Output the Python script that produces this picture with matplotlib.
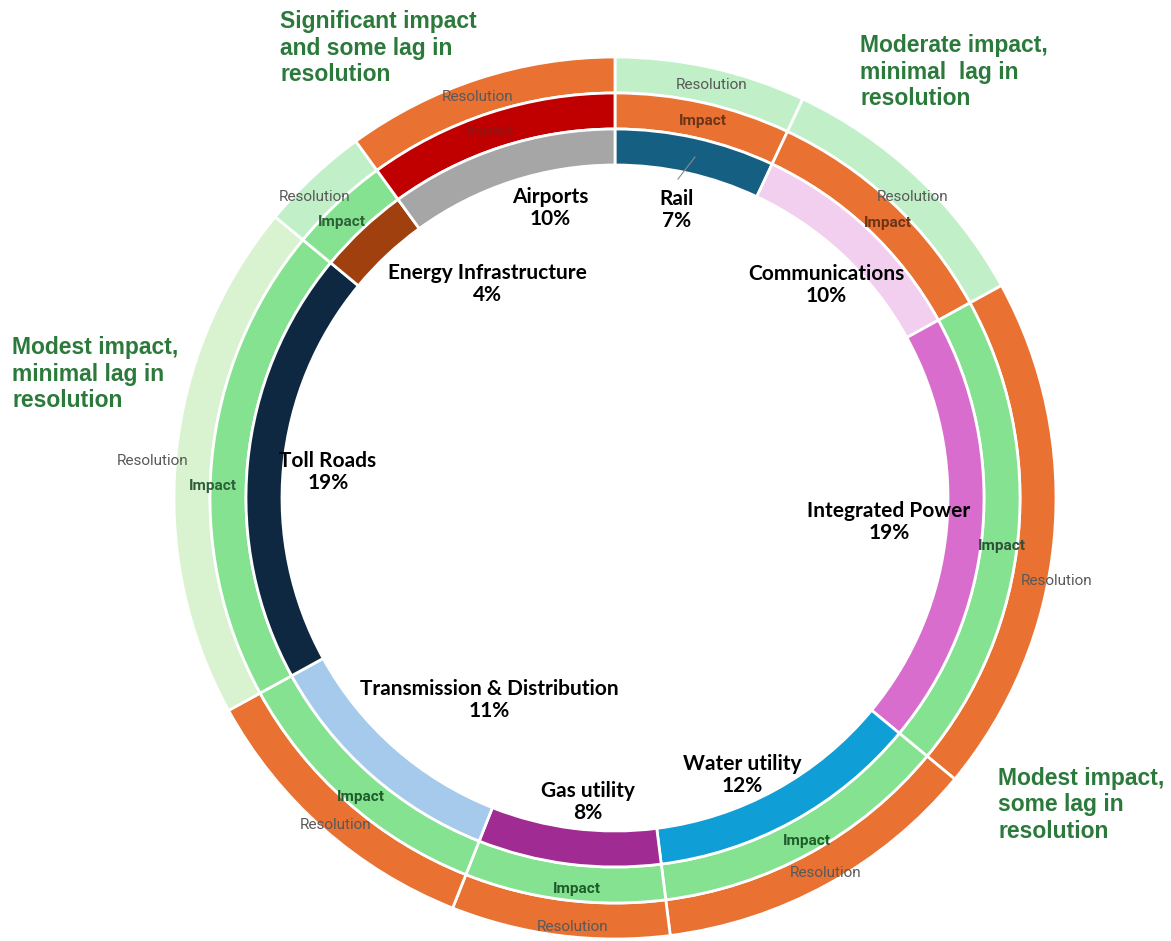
import matplotlib.pyplot as plt

#---------------- data ----------------
sectors = ['Rail', 'Communications', 'Integrated Power', 'Water utility', 'Gas utility',
           'Transmission & Distribution', 'Toll Roads', 'Energy Infrastructure', 'Airports']
shares = [7, 10, 19, 12, 8, 11, 19, 4, 10]

sector_colors = ['#156082', '#f2ceef', '#d86dcd', '#0f9ed5', '#a02b93',
                 '#a6caec', '#0e2841', '#a0400f', '#a6a6a6']
impact_colors = ['#e97132', '#e97132', '#84e291', '#84e291', '#84e291',
                 '#84e291', '#84e291', '#84e291', '#c00000']
resolution_colors = ['#c1f0c8', '#c1f0c8', '#e97132', '#e97132', '#e97132',
                     '#e97132', '#d9f2d0', '#c1f0c8', '#e97132']

notes = ['Significant impact\nand some lag in\nresolution',
         'Moderate impact,\nminimal  lag in\nresolution',
         'Modest impact,\nminimal lag in\nresolution',
         'Modest impact,\nsome lag in\nresolution']

#---------------- layout (pixels, y down) ----------------
W, H = 1171, 941
cx, cy = 615, 498
R = 441
ring = 36

label_pos = [(677, 210), (826, 285), (889, 522), (742, 775), (588, 802),
             (489, 700), (328, 472), (487, 284), (550, 208)]
impact_pos = [(703, 121), (888, 223), (1002, 546), (807, 841), (577, 889),
              (361, 797), (213, 486), (342, 222), (490, 131)]
impact_txt_colors = ['#6b3418', '#6b3418', '#2f4f3a', '#1e5c2a', '#1e5c2a',
                     '#1e5c2a', '#2f5f3a', '#2f5f3a', '#9a1010']
resol_pos = [(712, 85), (913, 197), (1057, 581), (826, 873), (573, 927),
             (336, 825), (153, 461), (315, 197), (478, 97)]
note_pos = [(280, 48), (860, 72), (12, 374), (998, 805)]

fig = plt.figure(figsize=(W / 100, H / 100), dpi=100)
ax = fig.add_axes([0, 0, 1, 1])

def py(y):
    return H - y

wp = dict(width=ring, edgecolor='white', linewidth=2)
ax.pie(shares, colors=resolution_colors, radius=R, center=(cx, py(cy)),
       startangle=90, counterclock=False, wedgeprops=wp)
ax.pie(shares, colors=impact_colors, radius=R - ring, center=(cx, py(cy)),
       startangle=90, counterclock=False, wedgeprops=wp)
ax.pie(shares, colors=sector_colors, radius=R - 2 * ring, center=(cx, py(cy)),
       startangle=90, counterclock=False, wedgeprops=wp)

ax.set_xlim(0, W)
ax.set_ylim(0, H)
ax.set_aspect('equal')
ax.axis('off')

# sector labels in the hole
for name, val, (x, y) in zip(sectors, shares, label_pos):
    ax.text(x, py(y), f'{name}\n{val}%', ha='center', va='center', fontsize=15,
            fontweight='bold', family='Lato', color='black', linespacing=1.15)

# leader line for Rail
ax.plot([678, 695], [py(179), py(157)], color='#8c8c8c', lw=0.8)

# ring labels
for (x, y), c in zip(impact_pos, impact_txt_colors):
    ax.text(x, py(y), 'Impact', ha='center', va='center', fontsize=11,
            fontweight='bold', family='Roboto', color=c)
for (x, y) in resol_pos:
    ax.text(x, py(y), 'Resolution', ha='center', va='center', fontsize=11,
            family='Roboto', color='#595959')

# green notes
for t, (x, y) in zip(notes, note_pos):
    ax.text(x, py(y), t, ha='left', va='center', fontsize=16.5, fontweight='bold',
            family='Liberation Sans', color='#2b7a3b', linespacing=1.22)

fig.savefig('out.png', dpi=100)
